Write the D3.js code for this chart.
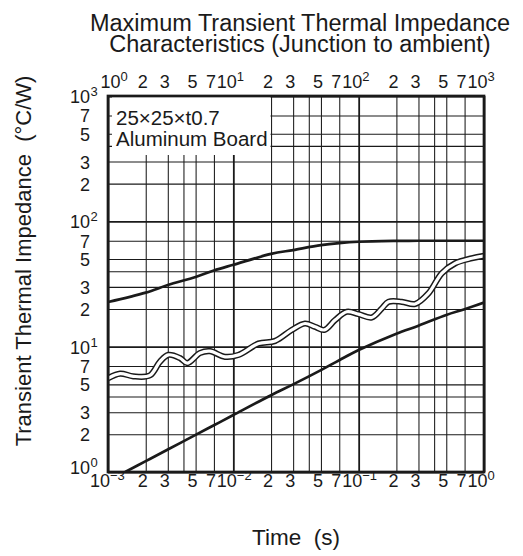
<!DOCTYPE html>
<html>
<head>
<meta charset="utf-8">
<script src="https://cdn.jsdelivr.net/npm/d3@7"></script>
<style>
  body { margin: 0; background: #fff; }
  text { font-family: "Liberation Sans", Arial, sans-serif; fill: #1a1a1a; }
</style>
</head>
<body>
<svg id="chart" width="523" height="556"></svg>
<script>
// Axis decades and grid steps
const timeDecades = [-3, -2, -1, 0];      // bottom axis: t (s)
const pulseDecades = [0, 1, 2, 3];        // top axis
const zthDecades = [0, 1, 2, 3];          // left axis: Zth (°C/W)
const gridSteps = [1, 2, 3, 4, 5, 7];
const labelSteps = [1, 2, 3, 5, 7];

// Upper curve
const upperTime = [0.001, 0.002, 0.003, 0.005, 0.007, 0.01, 0.02, 0.03, 0.05, 0.07, 0.1, 0.2, 0.3, 0.5, 1.0];
const upperZth  = [22.7, 27, 31, 36, 40.5, 45, 55, 59, 64.5, 67, 68.7, 69.8, 70, 70, 70];

// Lower curve
const lowerTime = [0.00137, 0.002, 0.003, 0.005, 0.007, 0.01, 0.02, 0.03, 0.05, 0.07, 0.1, 0.2, 0.3, 0.5, 0.7, 1.0];
const lowerZth  = [1, 1.22, 1.51, 1.98, 2.36, 2.85, 4.1, 5.0, 6.5, 7.8, 9.4, 12.7, 14.7, 17.9, 19.9, 22.5];

// Wavy (double-line) curve
const wavyTime = [0.001, 0.00125, 0.00159, 0.00216, 0.0026, 0.00303, 0.00376, 0.00429, 0.00542, 0.00651,
                  0.00858, 0.011, 0.0159, 0.0215, 0.0293, 0.0373, 0.0449, 0.0532, 0.0648, 0.0804,
                  0.0995, 0.127, 0.153, 0.173, 0.221, 0.282, 0.36, 0.46, 0.588, 0.799, 1.0];
const wavyZth  = [5.6, 6.1, 5.8, 5.9, 7.6, 8.6, 8.1, 7.4, 8.9, 9.2,
                  8.3, 8.6, 10.6, 11.1, 13.6, 15.3, 14.4, 13.6, 16.3, 19.0,
                  18.2, 17.1, 20.2, 22.8, 22.8, 21.9, 26.6, 38.5, 46.2, 50.7, 53.1];

const titleLines = ["Maximum Transient Thermal Impedance", "Characteristics (Junction to ambient)"];
const legendLines = ["25×25×t0.7", "Aluminum Board"];
const yTitle = "Transient Thermal Impedance\u00A0\u00A0(°C/W)";
const xTitle = "Time\u00A0\u00A0(s)";

const plotLeft = 108, plotTop = 96, W = 376, H = 376;
const tickFont = 18, expFont = 13;
const svg = d3.select("#chart");

const x = d3.scaleLog().domain([1e-3, 1]).range([0, W]);
const xTop = d3.scaleLog().domain([1, 1e3]).range([0, W]);
const y = d3.scaleLog().domain([1, 1e3]).range([H, 0]);

function tickValues(decades, steps) {
  const out = [];
  decades.forEach((d, i) => {
    steps.forEach(s => {
      if (i < decades.length - 1 || s === 1) out.push(+(s * Math.pow(10, d)).toPrecision(6));
    });
  });
  return out;
}
const isDecade = v => Math.abs(Math.log10(v) - Math.round(Math.log10(v))) < 1e-9;
const expOf = v => Math.round(Math.log10(v));
const fmtExp = e => (e < 0 ? "\u2212" + (-e) : String(e));
const mantissa = v => Math.round(v / Math.pow(10, Math.floor(Math.log10(v) + 1e-9)));

const g = svg.append("g").attr("transform", `translate(${plotLeft},${plotTop})`);

// Grid lines
const gridX = g.append("g").attr("transform", `translate(0,${H})`)
  .call(d3.axisBottom(x).tickValues(tickValues(timeDecades, gridSteps)).tickSize(-H).tickFormat(""));
const gridY = g.append("g")
  .call(d3.axisLeft(y).tickValues(tickValues(zthDecades, gridSteps)).tickSize(-W).tickFormat(""));
[gridX, gridY].forEach(a => {
  a.select(".domain").remove();
  a.selectAll(".tick line")
    .attr("stroke", "#1a1a1a")
    .attr("stroke-width", d => isDecade(d) ? 1.8 : 1.05);
});

// Legend box
g.append("rect").attr("x", 4).attr("y", 1).attr("width", 158.5).attr("height", 58).attr("fill", "#fff");
g.append("g").selectAll("text").data(legendLines).join("text")
  .attr("x", 8).attr("y", (d, i) => 29 + i * 21)
  .attr("font-size", 20.5)
  .text(d => d);

// Curves
g.append("clipPath").attr("id", "plotClip").append("rect").attr("width", W).attr("height", H);
const line = d3.line().x(d => x(d[0])).y(d => y(d[1])).curve(d3.curveCatmullRom.alpha(0.5));
const curves = g.append("g").attr("clip-path", "url(#plotClip)");

curves.append("path").datum(d3.zip(upperTime, upperZth))
  .attr("d", line).attr("fill", "none").attr("stroke", "#1a1a1a").attr("stroke-width", 2.7);
curves.append("path").datum(d3.zip(lowerTime, lowerZth))
  .attr("d", line).attr("fill", "none").attr("stroke", "#1a1a1a").attr("stroke-width", 2.7);
const wavy = d3.zip(wavyTime, wavyZth);
curves.append("path").datum(wavy)
  .attr("d", line).attr("fill", "none").attr("stroke", "#1a1a1a").attr("stroke-width", 6.2);
curves.append("path").datum(wavy)
  .attr("d", line).attr("fill", "none").attr("stroke", "#fff").attr("stroke-width", 3.2);

// Frame
g.append("rect").attr("width", W).attr("height", H)
  .attr("fill", "none").attr("stroke", "#1a1a1a").attr("stroke-width", 2.7);

// Tick labels along the time axes: "10" sits just left of its tick with the exponent
// hanging to the right; mantissas are centred slightly left of the tick.
function timeLabels(sel, baseY, firstShift) {
  sel.select(".domain").remove();
  sel.selectAll(".tick line").remove();
  sel.selectAll(".tick").each(function (d, i) {
    const t = d3.select(this).append("text")
      .attr("y", baseY).attr("font-size", tickFont);
    if (isDecade(d)) {
      t.attr("x", i === 0 ? firstShift : -17).attr("text-anchor", "start");
      t.append("tspan").text("10");
      t.append("tspan").attr("dy", -7).attr("font-size", expFont).text(fmtExp(expOf(d)));
    } else {
      t.attr("x", -3.5).attr("text-anchor", "middle").text(mantissa(d));
    }
  });
}

const bottomAxis = g.append("g").attr("transform", `translate(0,${H})`)
  .call(d3.axisBottom(x).tickValues(tickValues(timeDecades, labelSteps)).tickSize(0).tickFormat(""));
timeLabels(bottomAxis, 15, -18.5);

const topAxis = g.append("g")
  .call(d3.axisTop(xTop).tickValues(tickValues(pulseDecades, labelSteps)).tickSize(0).tickFormat(""));
timeLabels(topAxis, -8, -8);

// Impedance labels; the lowest decade is lifted clear of the time labels below it
const leftAxis = g.append("g")
  .call(d3.axisLeft(y).tickValues(tickValues(zthDecades, labelSteps)).tickSize(0).tickFormat(""));
leftAxis.select(".domain").remove();
leftAxis.selectAll(".tick").each(function (d, i) {
  const tk = d3.select(this);
  const lift = i === 0 ? -5 : 0;
  if (isDecade(d)) {
    tk.append("text").attr("x", -18).attr("y", 6.5 + lift).attr("text-anchor", "end").attr("font-size", tickFont).text("10");
    tk.append("text").attr("x", -17.5).attr("y", -0.5 + lift).attr("text-anchor", "start").attr("font-size", expFont)
      .text(fmtExp(expOf(d)));
  } else {
    tk.append("text").attr("x", -18).attr("y", 6.5).attr("text-anchor", "end").attr("font-size", tickFont).text(mantissa(d));
  }
});

// Two-line title as a single text block
svg.append("text")
  .attr("text-anchor", "middle").attr("font-size", 23.5)
  .selectAll("tspan").data(titleLines).join("tspan")
  .attr("x", 300).attr("y", (d, i) => 31 + i * 21)
  .text(d => d);

svg.append("text")
  .attr("transform", "translate(31,261) rotate(-90)")
  .attr("text-anchor", "middle").attr("font-size", 22)
  .text(yTitle);

svg.append("text")
  .attr("x", plotLeft + W / 2).attr("y", 545)
  .attr("text-anchor", "middle").attr("font-size", 22.5)
  .text(xTitle);
</script>
</body>
</html>
